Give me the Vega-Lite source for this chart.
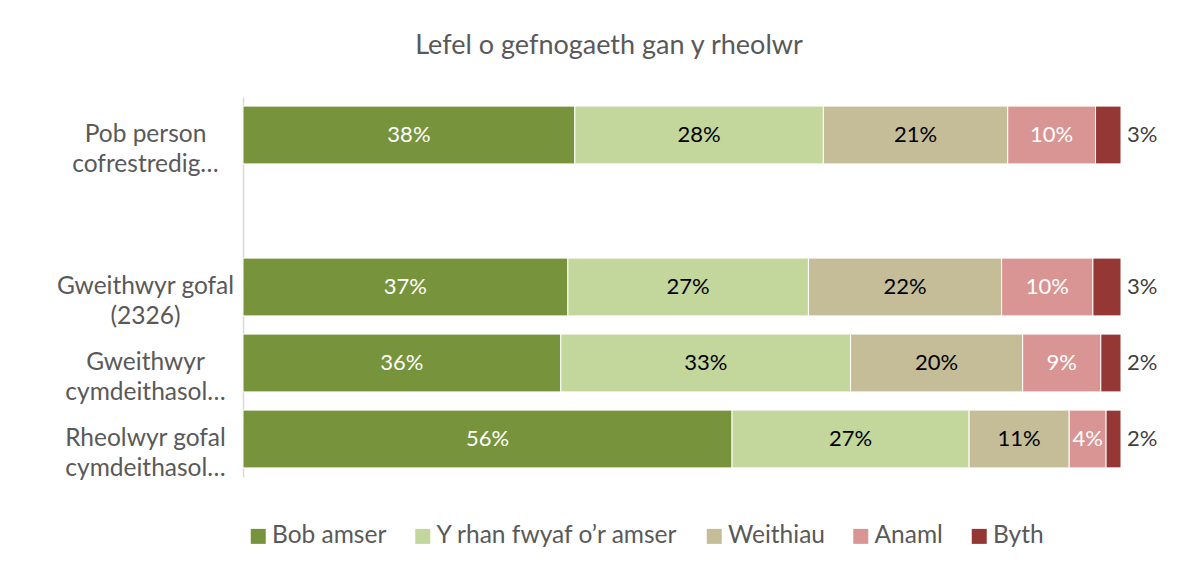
{
  "$schema": "https://vega.github.io/schema/vega-lite/v6.json",
  "width": 878,
  "height": 380,
  "autosize": {"type": "none"},
  "padding": {"left": 243, "top": 97, "right": 79, "bottom": 104},
  "background": "white",
  "config": {"view": {"stroke": null}},
  "title": {
    "text": "Lefel o gefnogaeth gan y rheolwr",
    "font": "Lato",
    "fontSize": 27,
    "fontWeight": "normal",
    "color": "#595959",
    "anchor": "middle",
    "frame": "group",
    "dx": -73,
    "baseline": "alphabetic",
    "offset": 16
  },
  "data": {
    "values": [
      {"cat": "Pob person|cofrestredig…", "resp": "Bob amser", "ord": 1, "val": 0.378},
      {"cat": "Pob person|cofrestredig…", "resp": "Y rhan fwyaf o’r amser", "ord": 2, "val": 0.283},
      {"cat": "Pob person|cofrestredig…", "resp": "Weithiau", "ord": 3, "val": 0.210},
      {"cat": "Pob person|cofrestredig…", "resp": "Anaml", "ord": 4, "val": 0.100},
      {"cat": "Pob person|cofrestredig…", "resp": "Byth", "ord": 5, "val": 0.029},
      {"cat": "Gweithwyr gofal|(2326)", "resp": "Bob amser", "ord": 1, "val": 0.370},
      {"cat": "Gweithwyr gofal|(2326)", "resp": "Y rhan fwyaf o’r amser", "ord": 2, "val": 0.274},
      {"cat": "Gweithwyr gofal|(2326)", "resp": "Weithiau", "ord": 3, "val": 0.220},
      {"cat": "Gweithwyr gofal|(2326)", "resp": "Anaml", "ord": 4, "val": 0.104},
      {"cat": "Gweithwyr gofal|(2326)", "resp": "Byth", "ord": 5, "val": 0.032},
      {"cat": "Gweithwyr|cymdeithasol…", "resp": "Bob amser", "ord": 1, "val": 0.362},
      {"cat": "Gweithwyr|cymdeithasol…", "resp": "Y rhan fwyaf o’r amser", "ord": 2, "val": 0.330},
      {"cat": "Gweithwyr|cymdeithasol…", "resp": "Weithiau", "ord": 3, "val": 0.196},
      {"cat": "Gweithwyr|cymdeithasol…", "resp": "Anaml", "ord": 4, "val": 0.089},
      {"cat": "Gweithwyr|cymdeithasol…", "resp": "Byth", "ord": 5, "val": 0.023},
      {"cat": "Rheolwyr gofal|cymdeithasol…", "resp": "Bob amser", "ord": 1, "val": 0.557},
      {"cat": "Rheolwyr gofal|cymdeithasol…", "resp": "Y rhan fwyaf o’r amser", "ord": 2, "val": 0.270},
      {"cat": "Rheolwyr gofal|cymdeithasol…", "resp": "Weithiau", "ord": 3, "val": 0.114},
      {"cat": "Rheolwyr gofal|cymdeithasol…", "resp": "Anaml", "ord": 4, "val": 0.042},
      {"cat": "Rheolwyr gofal|cymdeithasol…", "resp": "Byth", "ord": 5, "val": 0.017}
    ]
  },
  "transform": [
    {"stack": "val", "groupby": ["cat"], "sort": [{"field": "ord", "order": "ascending"}], "as": ["x0", "x1"]}
  ],
  "encoding": {
    "y": {
      "field": "cat",
      "type": "nominal",
      "scale": {
        "domain": ["Pob person|cofrestredig…", "gap", "Gweithwyr gofal|(2326)", "Gweithwyr|cymdeithasol…", "Rheolwyr gofal|cymdeithasol…"],
        "paddingInner": 0.24,
        "paddingOuter": 0.12
      },
      "axis": {
        "title": null,
        "ticks": false,
        "grid": false,
        "domainColor": "#d9d9d9",
        "domainWidth": 1.5,
        "labelFont": "Lato",
        "labelFontSize": 24.5,
        "labelColor": "#595959",
        "labelAlign": "center",
        "labelBaseline": "middle",
        "labelPadding": 98,
        "labelLineHeight": 30,
        "labelLimit": 300,
        "labelExpr": "datum.value == 'gap' ? '' : split(datum.value, '|')"
      }
    }
  },
  "layer": [
    {
      "mark": {"type": "bar", "stroke": "white", "strokeWidth": 1},
      "encoding": {
        "x": {"field": "x0", "type": "quantitative", "scale": {"domain": [0, 1], "nice": false, "zero": true}, "axis": null},
        "x2": {"field": "x1"},
        "color": {
          "field": "resp",
          "type": "nominal",
          "scale": {
            "domain": ["Bob amser", "Y rhan fwyaf o’r amser", "Weithiau", "Anaml", "Byth"],
            "range": ["#77933C", "#C3D69B", "#C4BD97", "#D99594", "#953735"]
          },
          "legend": {
            "title": null,
            "orient": "none",
            "legendX": 3,
            "legendY": 427,
            "direction": "horizontal",
            "symbolType": "square",
            "symbolSize": 225,
            "symbolStrokeWidth": 0,
            "symbolOpacity": 1,
            "labelFont": "Lato",
            "labelFontSize": 24.5,
            "labelColor": "#595959",
            "labelOffset": 1.5,
            "labelLimit": 400,
            "columnPadding": 23.5
          }
        }
      }
    },
    {
      "transform": [
        {"filter": {"field": "resp", "oneOf": ["Bob amser", "Anaml"]}},
        {"fold": ["x0", "x1"], "as": ["k", "pos"]}
      ],
      "mark": {"type": "text", "color": "white", "font": "Lato", "fontSize": 22, "baseline": "middle", "align": "center"},
      "encoding": {
        "x": {"aggregate": "mean", "field": "pos", "type": "quantitative"},
        "detail": {"field": "resp"},
        "text": {"field": "val", "type": "quantitative", "format": ".0%"}
      }
    },
    {
      "transform": [
        {"filter": {"field": "resp", "oneOf": ["Y rhan fwyaf o’r amser", "Weithiau"]}},
        {"fold": ["x0", "x1"], "as": ["k", "pos"]}
      ],
      "mark": {"type": "text", "color": "black", "font": "Lato", "fontSize": 22, "baseline": "middle", "align": "center"},
      "encoding": {
        "x": {"aggregate": "mean", "field": "pos", "type": "quantitative"},
        "detail": {"field": "resp"},
        "text": {"field": "val", "type": "quantitative", "format": ".0%"}
      }
    },
    {
      "transform": [
        {"filter": {"field": "resp", "equal": "Byth"}}
      ],
      "mark": {"type": "text", "color": "#404040", "font": "Lato", "fontSize": 22, "baseline": "middle", "align": "left", "dx": 6},
      "encoding": {
        "x": {"field": "x1", "type": "quantitative"},
        "text": {"field": "val", "type": "quantitative", "format": ".0%"}
      }
    }
  ]
}
